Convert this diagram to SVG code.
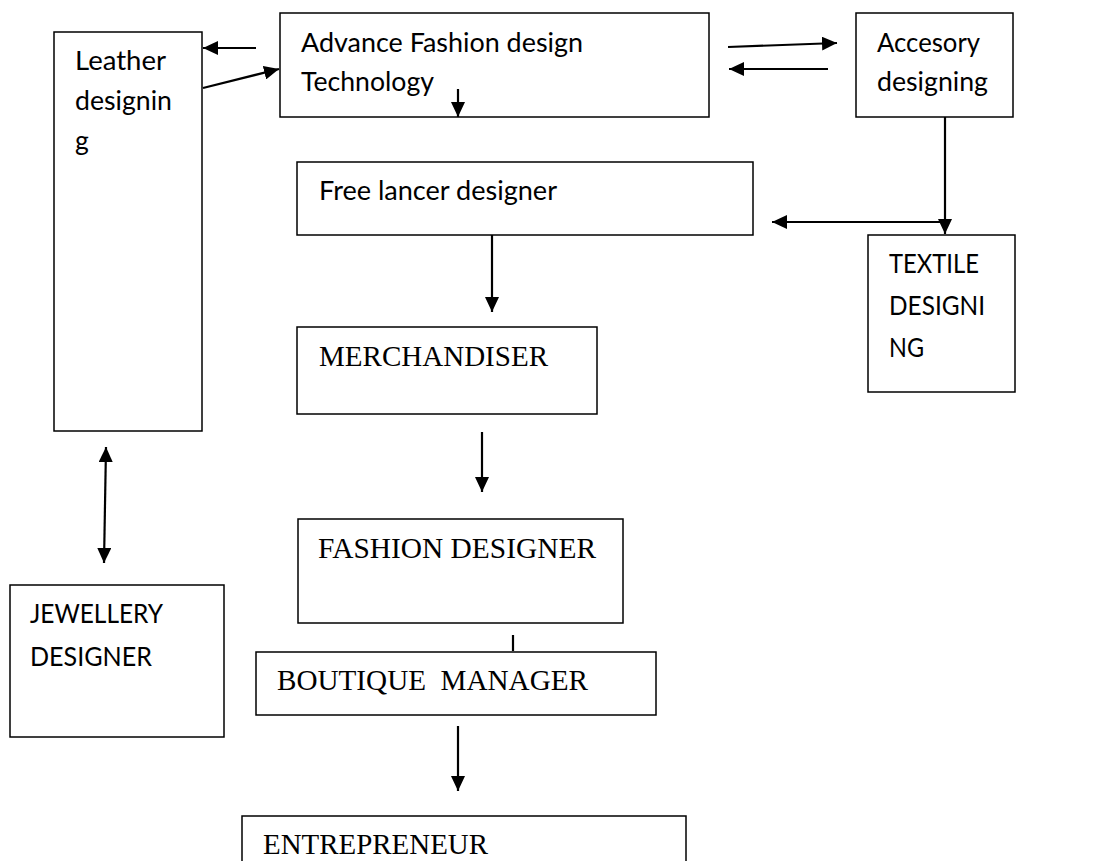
<svg xmlns="http://www.w3.org/2000/svg" width="1114" height="861" viewBox="0 0 1114 861">
<style>
.box{fill:#fff;stroke:#000;stroke-width:1.5}
.sans{font-family:Lato,"Open Sans","Liberation Sans",sans-serif;font-size:26.5px;fill:#000}
.serif{font-family:"Liberation Serif","Times New Roman",serif;font-size:29px;fill:#000}
.con{stroke:#000;stroke-width:2.2;fill:none}
.arr{marker-end:url(#ah)}
</style>
<defs>
<marker id="ah" markerUnits="userSpaceOnUse" markerWidth="16" markerHeight="14" refX="15" refY="7" orient="auto-start-reverse" viewBox="0 0 16 14">
<path d="M0,0 L15,7 L0,14 z" fill="#000"/>
</marker>
</defs>
<rect width="1114" height="861" fill="#fff"/>
<g id="leather"><rect class="box" x="54" y="32" width="148" height="399"/>
<text class="sans" x="75" y="70" textLength="91" lengthAdjust="spacingAndGlyphs">Leather</text>
<text class="sans" x="75" y="110" textLength="97" lengthAdjust="spacingAndGlyphs">designin</text>
<text class="sans" x="75" y="150">g</text></g>
<g id="afdt"><rect class="box" x="280" y="13" width="429" height="104"/>
<text class="sans" x="301" y="52" textLength="282" lengthAdjust="spacingAndGlyphs">Advance Fashion design</text>
<text class="sans" x="301" y="91" textLength="133" lengthAdjust="spacingAndGlyphs">Technology</text></g>
<g id="accessory"><rect class="box" x="856" y="13" width="157" height="104"/>
<text class="sans" x="877" y="52" textLength="103" lengthAdjust="spacingAndGlyphs">Accesory</text>
<text class="sans" x="877" y="91" textLength="111" lengthAdjust="spacingAndGlyphs">designing</text></g>
<g id="freelancer"><rect class="box" x="297" y="162" width="456" height="73"/>
<text class="sans" x="319" y="200" textLength="238" lengthAdjust="spacingAndGlyphs">Free lancer designer</text></g>
<g id="textile"><rect class="box" x="868" y="235" width="147" height="157"/>
<text class="sans" x="889" y="273" textLength="90" lengthAdjust="spacingAndGlyphs">TEXTILE</text>
<text class="sans" x="889" y="315" textLength="96" lengthAdjust="spacingAndGlyphs">DESIGNI</text>
<text class="sans" x="889" y="357" textLength="35" lengthAdjust="spacingAndGlyphs">NG</text></g>
<g id="merchandiser"><rect class="box" x="297" y="327" width="300" height="87"/>
<text class="serif" x="319" y="366" textLength="229" lengthAdjust="spacingAndGlyphs">MERCHANDISER</text></g>
<g id="fashion"><rect class="box" x="298" y="519" width="325" height="104"/>
<text class="serif" x="318" y="558" textLength="278" lengthAdjust="spacingAndGlyphs">FASHION DESIGNER</text></g>
<g id="boutique"><rect class="box" x="256" y="652" width="400" height="63"/>
<text class="serif" x="277" y="690" textLength="311" lengthAdjust="spacingAndGlyphs" xml:space="preserve">BOUTIQUE  MANAGER</text></g>
<g id="entrepreneur"><rect class="box" x="242" y="816" width="444" height="60"/>
<text class="serif" x="263" y="854" textLength="225" lengthAdjust="spacingAndGlyphs">ENTREPRENEUR</text></g>
<g id="jewellery"><rect class="box" x="10" y="585" width="214" height="152"/>
<text class="sans" x="30" y="623" textLength="133" lengthAdjust="spacingAndGlyphs">JEWELLERY</text>
<text class="sans" x="30" y="666" textLength="122" lengthAdjust="spacingAndGlyphs">DESIGNER</text></g>
<g id="connectors">
<line class="con arr" x1="256" y1="48" x2="203" y2="48"/>
<line class="con arr" x1="203" y1="88" x2="279" y2="69"/>
<line class="con arr" x1="458" y1="89" x2="458" y2="117"/>
<line class="con arr" x1="728" y1="47" x2="837" y2="43"/>
<line class="con arr" x1="828" y1="69" x2="729" y2="69"/>
<line class="con arr" x1="945" y1="117" x2="945" y2="234"/>
<line class="con arr" x1="944" y1="222" x2="772" y2="222"/>
<line class="con arr" x1="492" y1="235" x2="492" y2="312"/>
<line class="con arr" x1="482" y1="432" x2="482" y2="492"/>
<line class="con" x1="513" y1="635" x2="513" y2="651"/>
<line class="con arr" x1="458" y1="726" x2="458" y2="791"/>
<line class="con arr" x1="106" y1="447" x2="104" y2="563" style="marker-start:url(#ah)"/>
</g>
</svg>
